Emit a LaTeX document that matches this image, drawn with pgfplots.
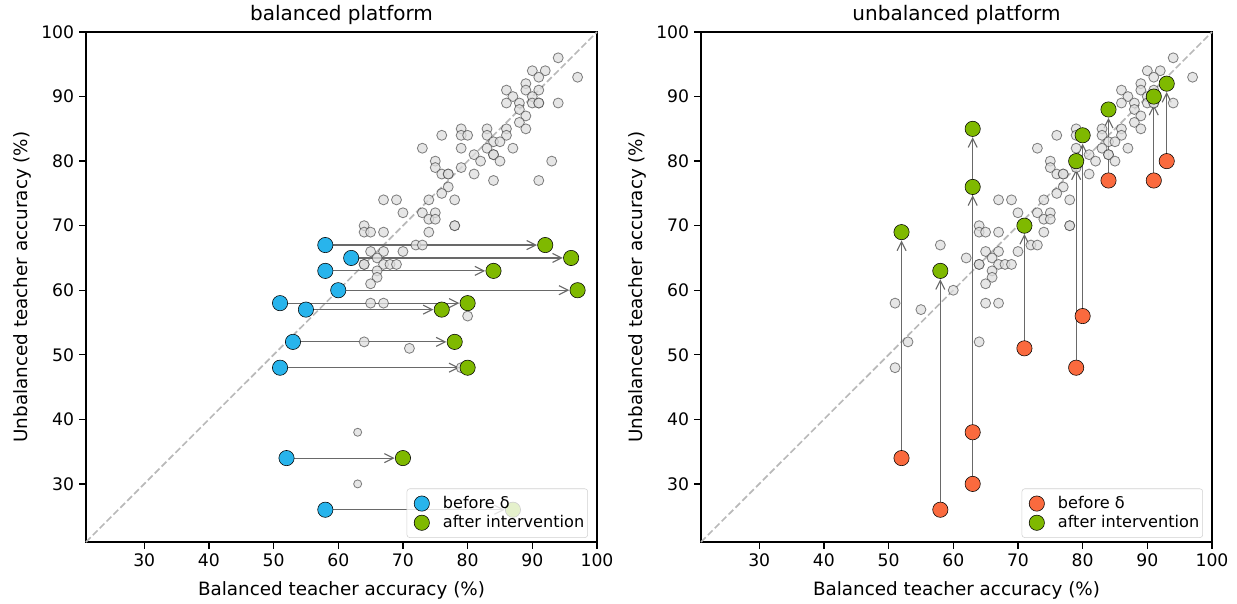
\documentclass[border=0pt]{standalone}
\usepackage{pgfplots}
\pgfplotsset{compat=1.18}
\usepackage{pgfplotstable}
\usepackage{fontspec}
\setmainfont{DejaVu Sans}
\usetikzlibrary{arrows.meta}

\definecolor{blueC}{RGB}{40,180,236}
\definecolor{greenC}{RGB}{127,185,0}
\definecolor{redC}{RGB}{250,106,62}
\definecolor{greyF}{RGB}{221,221,221}
\definecolor{greyE}{RGB}{50,50,50}
\definecolor{arrowC}{RGB}{105,105,105}
\definecolor{diagC}{RGB}{185,185,185}

\pgfplotstableread{
x y
94 96
97 93
90 94
92 94
91 93
89 92
86 91
89 91
91 91
87 90
90 90
86 89
88 89
90 89
91 89
91 89
94 89
88 88
89 87
88 86
89 85
79 85
83 85
86 85
76 84
79 84
80 84
83 84
86 84
84 83
85 83
73 82
79 82
83 82
87 82
81 81
84 81
84 81
75 80
82 80
85 80
93 80
75 79
79 79
76 78
77 78
77 78
81 78
84 77
91 77
77 76
76 75
78 74
67 74
69 74
74 74
70 72
73 72
75 72
74 71
75 71
78 70
78 70
64 70
64 69
65 69
67 69
74 69
72 67
73 67
65 66
67 66
70 66
66 65
64 64
64 64
67 64
68 64
69 64
66 63
66 62
65 61
65 58
67 58
80 56
64 52
71 51
79 48
58 67
62 65
58 63
60 60
51 58
55 57
53 52
51 48
52 34
58 26
}\greytab

\pgfplotstableread{
x y
63 38
63 30
}\greysmall

\pgfplotstableread{
x y u v
58 67 34 0
62 65 34 0
58 63 26 0
60 60 37 0
51 58 29 0
55 57 21 0
53 52 25 0
51 48 29 0
52 34 18 0
58 26 29 0
}\lefttab

\pgfplotstableread{
x y u v
52 34 0 35
58 26 0 37
63 38 0 47
63 30 0 46
71 51 0 19
79 48 0 32
80 56 0 28
84 77 0 11
91 77 0 13
93 80 0 12
}\righttab

\pgfplotsset{
  myaxis/.style={
    scale only axis,
    width=367.92pt, height=367.2pt,
    xmin=21, xmax=100, ymin=21, ymax=100,
    xtick={30,40,...,100}, ytick={30,40,...,100},
    tick align=outside, tick pos=left,
    major tick length=5pt,
    axis line style={line width=0.9pt},
    every tick/.style={line width=0.9pt, black},
    /pgf/number format/assume math mode=true,
    tick label style={font=\fontsize{12.4}{14}\selectfont},
    label style={font=\fontsize{13.2}{15}\selectfont},
    xlabel style={yshift=-4pt},
    title style={font=\fontsize{14.4}{16}\selectfont, yshift=-4.5pt},
    xlabel={Balanced teacher accuracy (\%)},
    ylabel={Unbalanced teacher accuracy (\%)},
    legend cell align=left,
    legend image code/.code={%
      \path (-5pt,0pt) (18pt,0pt);
      \draw[mark repeat=2,mark phase=2,##1] plot coordinates {(0pt,0pt) (5pt,0pt) (10pt,0pt)};},
    legend image post style={opacity=1, fill opacity=1, draw opacity=1},
    legend style={at={(1,0)}, anchor=south east, xshift=-6.5pt, yshift=3pt,
      draw=black!18, rounded corners=2pt, fill=white, fill opacity=0.8, text opacity=1,
      font=\fontsize{11.6}{13}\selectfont, row sep=-0.5pt, inner xsep=0.5pt, inner ysep=3.5pt},
    clip=false,
  },
  greypts/.style={only marks, mark=*, mark size=3.6pt,
    mark options={fill=greyF, draw=greyE, line width=0.6pt, fill opacity=0.75, draw opacity=0.6}},
  colpts/.style={only marks, mark=*, mark size=5.5pt,
    mark options={draw=black!85, line width=0.8pt}},
  arr/.style={arrowC, line width=0.8pt, -{Straight Barb[length=6.5pt,width=6.5pt]}, shorten >=6pt},
}

\begin{document}
\begin{tikzpicture}
\path[use as bounding box] (0,0) rectangle (890.64pt,434.16pt);
% left panel
\begin{axis}[myaxis, at={(61.92pt,43.92pt)}, anchor=south west, title={balanced platform}]
\addplot[greypts, forget plot] table[x=x,y=y] {\greytab};
\addplot[greypts, mark size=2.9pt, forget plot] table[x=x,y=y] {\greysmall};
\addplot[diagC, line width=1.2pt, dash pattern=on 4.8pt off 2.2pt, forget plot] coordinates {(21,21) (100,100)};
\addplot[arr, forget plot, quiver={u=\thisrow{u}, v=\thisrow{v}}] table[x=x,y=y] {\lefttab};
\addplot[colpts, fill=blueC, mark options={fill=blueC}] table[x=x,y=y] {\lefttab};
\addlegendentry{before δ}
\addplot[colpts, fill=greenC, mark options={fill=greenC}] table[x expr=\thisrow{x}+\thisrow{u}, y=y] {\lefttab};
\addlegendentry{after intervention}
\end{axis}
% right panel
\begin{axis}[myaxis, at={(504.72pt,43.92pt)}, anchor=south west, title={unbalanced platform}]
\addplot[greypts, forget plot] table[x=x,y=y] {\greytab};
\addplot[greypts, forget plot] table[x=x,y=y] {\greysmall};
\addplot[diagC, line width=1.2pt, dash pattern=on 4.8pt off 2.2pt, forget plot] coordinates {(21,21) (100,100)};
\addplot[arr, forget plot, quiver={u=\thisrow{u}, v=\thisrow{v}}] table[x=x,y=y] {\righttab};
\addplot[colpts, fill=redC, mark options={fill=redC}] table[x=x,y=y] {\righttab};
\addlegendentry{before δ}
\addplot[colpts, fill=greenC, mark options={fill=greenC}] table[x=x, y expr=\thisrow{y}+\thisrow{v}] {\righttab};
\addlegendentry{after intervention}
\end{axis}
\end{tikzpicture}
\end{document}
